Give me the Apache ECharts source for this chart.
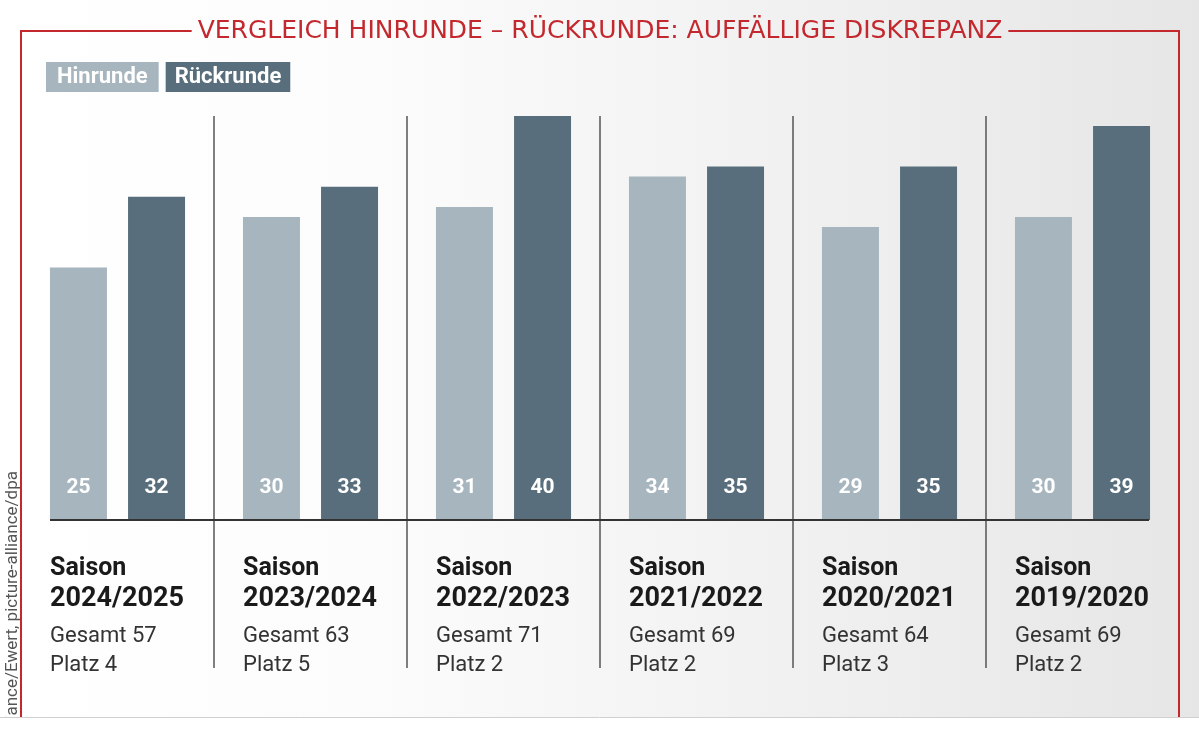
<!DOCTYPE html>
<html>
<head>
<meta charset="utf-8">
<script src="https://cdn.jsdelivr.net/npm/echarts@6/dist/echarts.min.js"></script>
<style>
  html, body { margin: 0; padding: 0; background: #fff; }
  #chart { width: 1199px; height: 730px; }
</style>
</head>
<body>
<div id="chart"></div>
<script>
const seasons = ["2024/2025", "2023/2024", "2022/2023", "2021/2022", "2020/2021", "2019/2020"];
const hinrunde = [25, 30, 31, 34, 29, 30];
const rueckrunde = [32, 33, 40, 35, 35, 39];
const gesamt = [57, 63, 71, 69, 64, 69];
const platz = [4, 5, 2, 2, 3, 2];

const titleText = "VERGLEICH HINRUNDE – RÜCKRUNDE: AUFFÄLLIGE DISKREPANZ";
const creditText = "picture-alliance/Ewert, picture-alliance/dpa";

const colorHin = "#a7b5be";
const colorRueck = "#586e7c";
const red = "#c3282e";
const font = "Roboto";
const titleFont = "25px 'DejaVu Sans'";

// measure the title so the red frame stops just before/after it
const measureCtx = document.createElement("canvas").getContext("2d");
measureCtx.font = titleFont;
const titleHalf = measureCtx.measureText(titleText).width / 2;
const titleLeft = 600 - titleHalf - 6;
const titleRight = 600 + titleHalf + 6;

const chart = echarts.init(document.getElementById("chart"));

const barLabel = {
  show: true,
  position: "insideBottom",
  distance: 22,
  color: "#fff",
  fontFamily: font,
  fontWeight: "bold",
  fontSize: 21
};

const legendText = {
  color: "#fff",
  lineHeight: 22,
  fontSize: 22,
  fontWeight: "bold",
  fontFamily: font
};

chart.setOption({
  backgroundColor: "#fff",
  animation: false,
  textStyle: { fontFamily: font },
  legend: {
    left: 36,
    top: 57,
    icon: "none",
    itemWidth: 0,
    itemHeight: 0,
    itemGap: 2,
    selectedMode: false,
    data: [
      { name: "Hinrunde", textStyle: { ...legendText, backgroundColor: colorHin, padding: [4, 11] } },
      { name: "Rückrunde", textStyle: { ...legendText, backgroundColor: colorRueck, padding: [4, 9] } }
    ]
  },
  grid: {
    left: 21,
    right: 20,
    top: 116,
    bottom: 210
  },
  xAxis: {
    type: "category",
    data: seasons,
    axisLine: { show: false },
    axisTick: {
      show: true,
      length: 148,
      lineStyle: { color: "#555", width: 1.5 }
    },
    splitLine: {
      show: true,
      lineStyle: { color: "#555", width: 1.5 }
    },
    axisLabel: {
      interval: 0,
      margin: 34,
      formatter: (value, index) => {
        return `{a|Saison}\n{b|${value}}\n{c|Gesamt ${gesamt[index]}}\n{d|Platz ${platz[index]}}`;
      },
      rich: {
        a: { width: 135, align: "left", fontSize: 25, fontWeight: "bold", color: "#1a1a1a", lineHeight: 30, fontFamily: font },
        b: { width: 135, align: "left", fontSize: 27, fontWeight: "bold", color: "#1a1a1a", lineHeight: 30, fontFamily: font },
        c: { width: 135, align: "left", fontSize: 22, color: "#333", lineHeight: 44, fontFamily: font },
        d: { width: 135, align: "left", fontSize: 22, color: "#333", lineHeight: 14, fontFamily: font }
      }
    }
  },
  yAxis: {
    type: "value",
    min: 0,
    max: 40,
    show: false,
    splitLine: { show: false }
  },
  series: [
    {
      name: "Hinrunde",
      type: "bar",
      data: hinrunde,
      barWidth: 57,
      barGap: "37%",
      itemStyle: { color: colorHin },
      label: barLabel
    },
    {
      name: "Rückrunde",
      type: "bar",
      data: rueckrunde,
      barWidth: 57,
      itemStyle: { color: colorRueck },
      label: barLabel
    }
  ],
  graphic: {
    elements: [
      {
        type: "rect",
        z: -10,
        silent: true,
        shape: { x: 0, y: 0, width: 1199, height: 717 },
        style: {
          fill: new echarts.graphic.LinearGradient(0, 0, 1, 0, [
            { offset: 0, color: "#ffffff" },
            { offset: 0.3, color: "#fcfcfc" },
            { offset: 1, color: "#e6e6e6" }
          ])
        }
      },
      {
        type: "line",
        z: 5,
        silent: true,
        shape: { x1: 50, y1: 520, x2: 1149, y2: 520 },
        style: { stroke: "#333", lineWidth: 2 }
      },
      {
        type: "text",
        z: 5,
        silent: true,
        x: 13,
        y: 471,
        rotation: Math.PI / 2,
        style: {
          text: creditText,
          fill: "#555",
          font: "17px " + font,
          textAlign: "right",
          textVerticalAlign: "middle"
        }
      },
      {
        type: "rect",
        z: 20,
        silent: true,
        shape: { x: 0, y: 717, width: 1199, height: 13 },
        style: { fill: "#fff" }
      },
      {
        type: "line",
        z: 21,
        silent: true,
        shape: { x1: 0, y1: 717.5, x2: 1199, y2: 717.5 },
        style: { stroke: "#d0d0d0", lineWidth: 1 }
      },
      {
        type: "line",
        z: 30,
        silent: true,
        shape: { x1: 20, y1: 31, x2: titleLeft, y2: 31 },
        style: { stroke: red, lineWidth: 2 }
      },
      {
        type: "line",
        z: 30,
        silent: true,
        shape: { x1: 21, y1: 30, x2: 21, y2: 717 },
        style: { stroke: red, lineWidth: 2 }
      },
      {
        type: "line",
        z: 30,
        silent: true,
        shape: { x1: titleRight, y1: 31, x2: 1180, y2: 31 },
        style: { stroke: red, lineWidth: 2 }
      },
      {
        type: "line",
        z: 30,
        silent: true,
        shape: { x1: 1179, y1: 30, x2: 1179, y2: 717 },
        style: { stroke: red, lineWidth: 2 }
      },
      {
        type: "text",
        z: 30,
        silent: true,
        x: 600,
        y: 31,
        style: {
          text: titleText,
          fill: red,
          font: titleFont,
          textAlign: "center",
          textVerticalAlign: "middle"
        }
      }
    ]
  }
});
</script>
</body>
</html>
